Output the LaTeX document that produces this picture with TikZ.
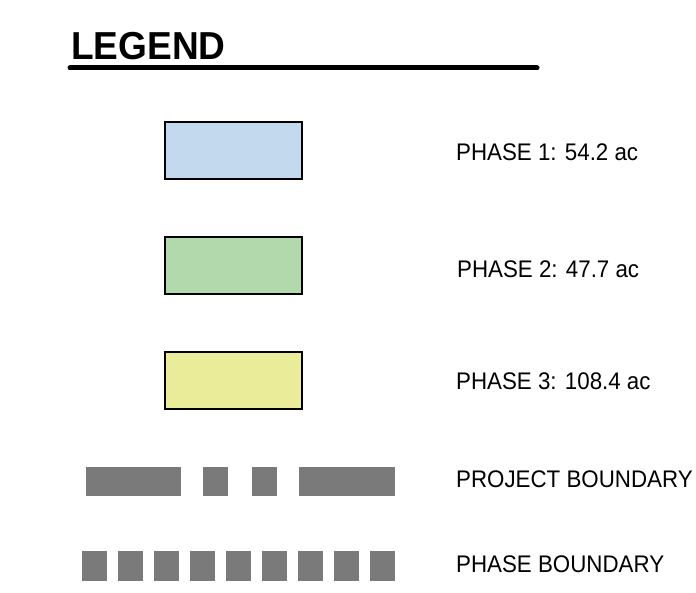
\documentclass[tikz,border=0pt]{standalone}
\usepackage{fontspec}
\setmainfont{Liberation Sans}
\usepackage{tikz}
\usetikzlibrary{shapes,arrows}
\definecolor{phaseone}{HTML}{C3D9EE}
\definecolor{phasetwo}{HTML}{B1D9AB}
\definecolor{phasethree}{HTML}{EAEC9A}
\definecolor{bndgray}{HTML}{7A7A7A}
\tikzstyle{swatch} = [rectangle, draw, line width=2pt, minimum width=137pt, minimum height=57pt, inner sep=0pt]
\tikzstyle{label} = [anchor=base west, inner sep=0pt, xscale=0.93, transform shape, font=\fontsize{24}{28}\selectfont]
\tikzstyle{bnd} = [draw=bndgray, line width=29pt]

\begin{document}
\begin{tikzpicture}[x=1pt, y=-1pt]
    \useasboundingbox (0,0) rectangle (696,593);
    % Title
    \node [anchor=base west, inner sep=0pt, xscale=0.95, transform shape, font=\fontsize{39}{42}\selectfont\bfseries] (title) at (71,60) {LEGEND};
    \coordinate (ulA) at (70,68);
    \coordinate (ulB) at (537,68);
    \draw [line width=5pt, line cap=round] (ulA) -- (ulB);
    % Place swatches
    \node [swatch, fill=phaseone] (p1) at (233.5,150.5) {};
    \node [swatch, fill=phasetwo] (p2) at (233.5,265.5) {};
    \node [swatch, fill=phasethree] (p3) at (233.5,380.5) {};
    % Boundary lines
    \coordinate (projA) at (86,481);
    \coordinate (projB) at (395,481);
    \coordinate (phsA) at (82,566);
    \coordinate (phsB) at (395,566);
    \path [bnd, dash pattern=on 95pt off 22pt on 25pt off 24pt on 25pt off 22pt on 96pt] (projA) -- (projB);
    \path [bnd, line width=30pt, dash pattern=on 25pt off 11pt] (phsA) -- (phsB);
    % Labels
    \node [label] (l1) at (456,161) {PHASE 1: 54.2 ac};
    \node [label] (l2) at (457,278) {PHASE 2: 47.7 ac};
    \node [label] (l3) at (456,390) {PHASE 3: 108.4 ac};
    \node [label] (l4) at (456,487) {PROJECT BOUNDARY};
    \node [label] (l5) at (456,572) {PHASE BOUNDARY};
\end{tikzpicture}
\end{document}
